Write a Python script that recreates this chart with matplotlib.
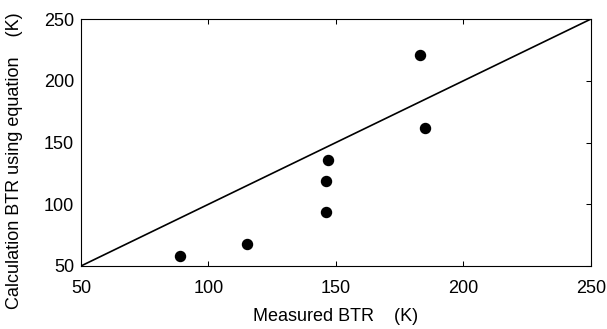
import numpy as np
import matplotlib
matplotlib.use('Agg')
import matplotlib.pyplot as plt

plt.rcParams['font.family'] = ['Liberation Sans', 'DejaVu Sans']

# measured vs calculated BTR (K)
measured = [89, 115, 146, 146, 147, 183, 185]
calculated = [58, 68, 94, 119, 136, 221, 161.5]
line_ends = [50, 250]

fig = plt.figure(figsize=(6.07, 3.29), dpi=100)
ax = fig.add_axes([0.1334, 0.1915, 0.8402, 0.7507])

# 1:1 line
ax.plot(line_ends, line_ends, color='black', linewidth=1.2)
ax.scatter(measured, calculated, s=52, color='black', zorder=3)

ax.set_xlim(50, 250)
ax.set_ylim(50, 250)
ax.set_xticks([50, 100, 150, 200, 250])
ax.set_yticks([50, 100, 150, 200, 250])
ax.tick_params(direction='in', length=3.5, width=0.75, labelsize=13,
               top=True, right=True, left=False)
ax.tick_params(axis='x', pad=10)
ax.tick_params(axis='y', pad=5)
for s in ax.spines.values():
    s.set_linewidth(0.8)

ax.set_xlabel('Measured BTR    (K)', fontsize=13)
ax.xaxis.set_label_coords(0.5, -0.172)
ax.set_ylabel('Calculation BTR using equation    (K)', fontsize=13)
ax.yaxis.set_label_coords(-0.114, 0.425)

plt.savefig('out.png', dpi=100)
